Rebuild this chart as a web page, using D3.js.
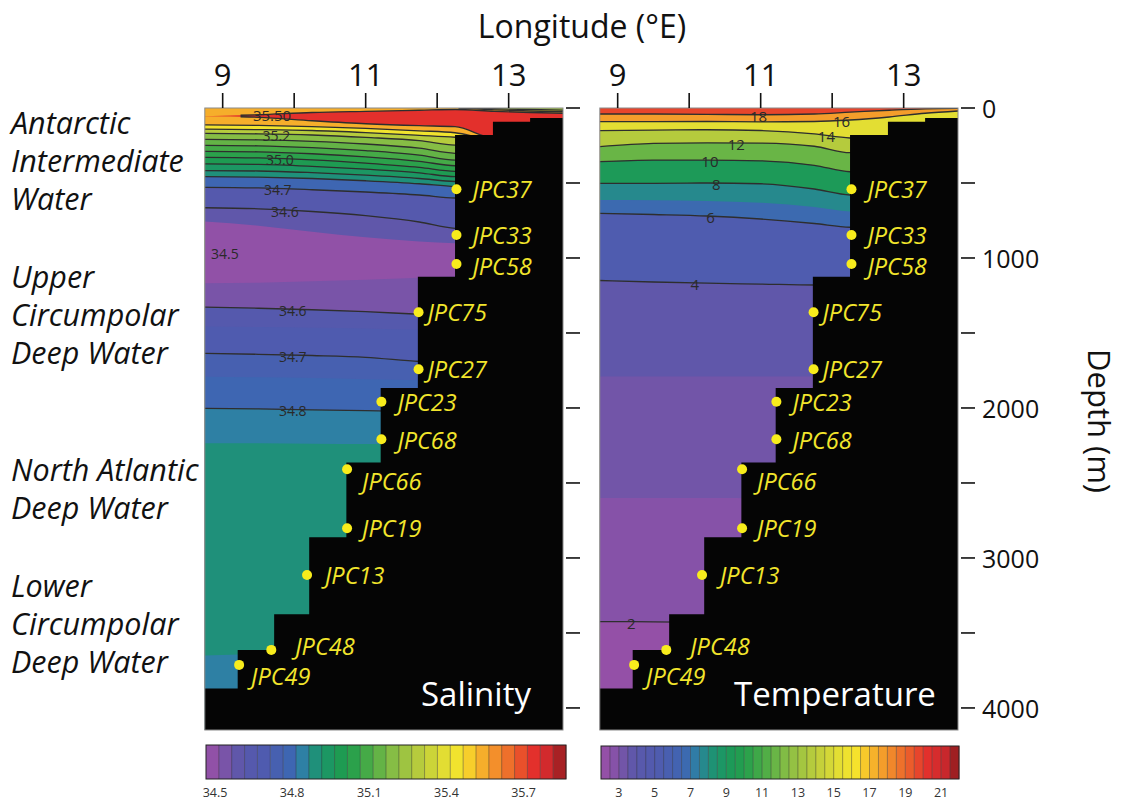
<!DOCTYPE html>
<html>
<head>
<meta charset="utf-8">
<script src="https://cdn.jsdelivr.net/npm/d3@7"></script>
<style>
  body { margin: 0; background: #ffffff; }
  svg { display: block; }
  text { font-family: "Open Sans", "Noto Sans", sans-serif; }
</style>
</head>
<body>
<svg id="chart" width="1123" height="803"></svg>
<script>
// ---------------------------------------------------------------------------
// Section data: longitude stations at which each water-property band's lower
// boundary depth (m) is given. Bands are listed from the sea surface downward.
// ---------------------------------------------------------------------------
const stations = [8.75, 9.5, 10.25, 11.0, 11.75, 12.25, 12.8, 13.3, 13.76];

// Salinity bands (value of each band, and depth of its lower boundary)
const salBandValues = [35.25, 35.45, 35.55, 35.75, 35.55, 35.45, 35.3, 35.2, 35.15, 35.1,
                       35.05, 35.0, 34.95, 34.9, 34.8, 34.65, 34.6, 34.5, 34.55, 34.65,
                       34.7, 34.75, 34.8, 34.85, 34.9, 34.85];
const salBandBottoms = [
  [0, 0, 0, 0, 0, 0, 5, 10, 15],
  [0, 0, 0, 0, 0, 0, 12, 20, 25],
  [55, 45, 30, 22, 15, 10, 22, 30, 35],
  [55, 62, 85, 105, 118, 124, 200, 200, 200],
  [113, 116, 124, 136, 152, 165, 210, 210, 210],
  [141, 144, 150, 164, 182, 195, 220, 220, 220],
  [169, 172, 180, 196, 218, 247, 250, 250, 250],
  [209, 212, 222, 240, 268, 302, 305, 305, 305],
  [249, 252, 264, 284, 314, 347, 350, 350, 350],
  [289, 292, 305, 326, 356, 385, 390, 390, 390],
  [329, 333, 346, 368, 396, 422, 425, 425, 425],
  [373, 376, 389, 408, 432, 458, 460, 460, 460],
  [418, 420, 431, 448, 470, 490, 495, 495, 495],
  [458, 461, 470, 485, 505, 524, 530, 530, 530],
  [529, 533, 545, 560, 580, 600, 605, 605, 605],
  [665, 672, 690, 718, 760, 802, 805, 805, 805],
  [757, 785, 825, 862, 890, 902, 905, 905, 905],
  [1169, 1165, 1155, 1145, 1132, 1124, 1124, 1124, 1124],
  [1328, 1335, 1345, 1358, 1375, 1385, 1385, 1385, 1385],
  [1457, 1460, 1465, 1470, 1478, 1480, 1480, 1480, 1480],
  [1636, 1642, 1650, 1662, 1690, 1700, 1700, 1700, 1700],
  [1791, 1795, 1800, 1808, 1815, 1820, 1820, 1820, 1820],
  [2002, 2006, 2012, 2018, 2024, 2030, 2030, 2030, 2030],
  [2235, 2236, 2238, 2240, 2242, 2245, 2245, 2245, 2245],
  [3650, 3640, 3630, 3620, 3610, 3600, 3600, 3600, 3600],
  [4200, 4200, 4200, 4200, 4200, 4200, 4200, 4200, 4200]
];
// isohalines drawn as contour lines (band index of the boundary, start longitude)
const salLineBands = [0, 1, 2, 3, 4, 5, 6, 7, 8, 9, 10, 11, 12, 13, 14, 15, 18, 20, 22];
const salLineStart = [12.3, 12.3, 9.25, 9.25, 8.75, 8.75, 8.75, 8.75, 8.75, 8.75,
                      8.75, 8.75, 8.75, 8.75, 8.75, 8.75, 8.75, 8.75, 8.75];
// contour labels: text, boundary band, longitude
const salLabelText = ["35.50", "35.2", "35.0", "34.7", "34.6", "34.6", "34.7", "34.8"];
const salLabelBand = [2, 6, 10, 14, 15, 18, 20, 22];
const salLabelLon  = [9.69, 9.75, 9.8, 9.77, 9.87, 9.98, 9.98, 9.98];
// free-standing label in the salinity minimum core
const salCoreText = ["34.5"];
const salCoreLon = [9.03];
const salCoreDepth = [969];

// Temperature bands (°C)
const tmpBandValues = [19.5, 17.75, 15.25, 13.75, 11.75, 9.25, 7.75, 6.5, 5.0, 3.75, 3.25, 2.75, 1.9];
const tmpBandBottoms = [
  [40, 40, 42, 45, 40, 28, 15, 6, 3],
  [91, 91, 90, 92, 90, 80, 60, 35, 20],
  [151, 148, 145, 150, 172, 200, 205, 205, 205],
  [258, 236, 232, 234, 255, 298, 300, 300, 300],
  [358, 347, 347, 352, 382, 425, 430, 430, 430],
  [502, 502, 500, 505, 540, 580, 585, 585, 585],
  [613, 615, 620, 632, 660, 690, 695, 695, 695],
  [702, 710, 720, 740, 770, 795, 800, 800, 800],
  [1150, 1160, 1168, 1174, 1180, 1180, 1180, 1180, 1180],
  [1790, 1790, 1790, 1790, 1790, 1790, 1790, 1790, 1790],
  [2600, 2600, 2600, 2602, 2605, 2605, 2605, 2605, 2605],
  [3424, 3426, 3430, 3435, 3440, 3440, 3440, 3440, 3440],
  [4200, 4200, 4200, 4200, 4200, 4200, 4200, 4200, 4200]
];
const tmpLineBands = [0, 1, 2, 3, 4, 5, 7, 8, 11];
const tmpLineStart = [8.75, 8.75, 8.75, 8.75, 8.75, 8.75, 8.75, 8.75, 8.75];
const tmpLabelText = ["18", "16", "14", "12", "10", "8", "6", "4", "2"];
const tmpLabelBand = [0, 1, 2, 3, 4, 5, 7, 8, 11];
const tmpLabelLon  = [10.97, 12.13, 11.92, 10.66, 10.29, 10.38, 10.3, 10.08, 9.19];

// Seafloor: step edges (°E) and depth (m) east of each edge
const bathyLon   = [8.75, 9.21, 9.72, 10.21, 10.73, 11.21, 11.73, 12.25, 12.78, 13.30, 13.76];
const bathyDepth = [3870, 3613, 3375, 2862, 2364, 1867, 1125, 180, 91, 67, 67];

// Sediment cores
const coreNames = ["JPC37", "JPC33", "JPC58", "JPC75", "JPC27", "JPC23", "JPC68",
                   "JPC66", "JPC19", "JPC13", "JPC48", "JPC49"];
const coreLon   = [12.27, 12.27, 12.27, 11.74, 11.74, 11.22, 11.22, 10.74, 10.74, 10.18, 9.68, 9.23];
const coreDepth = [542, 847, 1040, 1362, 1742, 1958, 2209, 2409, 2802, 3113, 3613, 3713];
// label placement relative to each core marker (px)
const coreLabelShift = [[16, 0], [16, 0], [16, 2], [9, 0], [9, 0], [16, 0], [16, 1],
                        [15, 12], [15, 0], [18, 0], [24, -4], [12, 11]];

// Water masses named along the left margin
const waterMassLines = [
  ["Antarctic", "Intermediate", "Water"],
  ["Upper", "Circumpolar", "Deep Water"],
  ["North Atlantic", "Deep Water"],
  ["Lower", "Circumpolar", "Deep Water"]
];
const waterMassDepth = [93, 1120, 2407, 3180]; // depth level of each first line

// Axes
const lonTicks = [9, 10, 11, 12, 13];
const lonTickLabels = [9, 11, 13];
const depthTicks = [0, 500, 1000, 1500, 2000, 2500, 3000, 3500, 4000];
const depthTickLabels = [0, 1000, 2000, 3000, 4000];

// Colour bars
const salBarTicks = [34.5, 34.8, 35.1, 35.4, 35.7];
const tmpBarTicks = [3, 5, 7, 9, 11, 13, 15, 17, 19, 21];

// ---------------------------------------------------------------------------
const svg = d3.select("#chart");

// shared rainbow ramp used by both colour bars
const ramp = d3.scaleLinear()
  .domain([0, 0.035, 0.06, 0.085, 0.12, 0.17, 0.232, 0.268, 0.304, 0.34, 0.375, 0.41, 0.46,
           0.52, 0.60, 0.67, 0.71, 0.75, 0.80, 0.86, 0.91, 0.96, 1.0])
  .range(["#9a4fa6", "#8852a8", "#7455a8", "#6157aa", "#5659ad", "#4e5caf", "#3e66b2", "#2e80a4",
          "#1f9079", "#1c9763", "#1e9b52", "#2aa14b", "#4fad46", "#88be45", "#bdcd3c", "#e8e032",
          "#f6e42c", "#f7bd2b", "#f3922b", "#eb5e2b", "#e3302c", "#cc282d", "#8b1b1d"])
  .interpolate(d3.interpolateRgb)
  .clamp(true);

const salCells = 28, tmpCells = 40;
const salCellIndex = v => Math.max(0, Math.min(salCells - 1, Math.round((v - 34.5) / 0.05)));
const tmpCellIndex = v => Math.max(0, Math.min(tmpCells - 1, Math.floor((v - 2) / 0.5 + 1e-9)));
const salColor = v => ramp((salCellIndex(v) + 0.5) / salCells);
const tmpColor = v => ramp((tmpCellIndex(v) + 0.5) / tmpCells);

const y = d3.scaleLinear().domain([0, 4147]).range([108, 730]);
const xL = d3.scaleLinear().domain([8.75, 13.76]).range([204.8, 563]);
const xR = d3.scaleLinear().domain([8.75, 13.76]).range([599.8, 958]);

const panels = [
  { id: "sal", x: xL, title: "Salinity", titleX: 476, values: salBandValues, bottoms: salBandBottoms, color: salColor,
    lineBands: salLineBands, lineStart: salLineStart,
    labelText: salLabelText, labelBand: salLabelBand, labelLon: salLabelLon, labelSize: 14 },
  { id: "tmp", x: xR, title: "Temperature", titleX: 835, values: tmpBandValues, bottoms: tmpBandBottoms, color: tmpColor,
    lineBands: tmpLineBands, lineStart: tmpLineStart,
    labelText: tmpLabelText, labelBand: tmpLabelBand, labelLon: tmpLabelLon, labelSize: 15 }
];

const defs = svg.append("defs");

panels.forEach(p => {
  const x = p.x;
  const [px0, px1] = x.range();
  const [py0, py1] = y.range();

  defs.append("clipPath").attr("id", "clip-" + p.id)
    .append("rect").attr("x", px0).attr("y", py0).attr("width", px1 - px0).attr("height", py1 - py0);

  const g = svg.append("g").attr("clip-path", "url(#clip-" + p.id + ")");

  // filled bands: each band painted from its upper boundary to the floor of the plot,
  // later (deeper) bands cover the rest, which leaves no seams between bands
  const fillArea = d3.area()
    .x(d => x(d.lon))
    .y0(d => y(d.top))
    .y1(() => y(4147) + 2)
    .curve(d3.curveMonotoneX);

  p.values.forEach((v, i) => {
    const tops = i === 0 ? stations.map(() => 0) : p.bottoms[i - 1];
    const pts = stations.map((lon, k) => ({ lon, top: tops[k] }));
    g.append("path").attr("d", fillArea(pts)).attr("fill", p.color(v));
  });

  // contour lines
  const contour = d3.line().x(d => x(d.lon)).y(d => y(d.depth)).curve(d3.curveMonotoneX);
  p.lineBands.forEach((b, j) => {
    const start = p.lineStart[j];
    const lg = g.append("g");
    if (start > 8.75) {
      const cid = "clipline-" + p.id + "-" + j;
      defs.append("clipPath").attr("id", cid)
        .append("rect").attr("x", x(start)).attr("y", py0 - 5).attr("width", px1 - x(start)).attr("height", py1 - py0 + 10);
      lg.attr("clip-path", "url(#" + cid + ")");
    }
    lg.append("path")
      .attr("d", contour(stations.map((lon, k) => ({ lon, depth: p.bottoms[b][k] }))))
      .attr("fill", "none").attr("stroke", "#2e2e2e").attr("stroke-width", 1.3);
  });

  // contour labels, placed on their isoline
  p.labelText.forEach((t, j) => {
    const b = p.labelBand[j];
    const along = d3.scaleLinear().domain(stations).range(p.bottoms[b]);
    const lon = p.labelLon[j];
    g.append("text")
      .attr("x", x(lon)).attr("y", y(along(lon)) + 1)
      .attr("text-anchor", "middle").attr("dominant-baseline", "central")
      .attr("font-size", t === "35.50" ? 15 : p.labelSize).attr("fill", "#2a2a2a")
      .text(t);
  });

  if (p.id === "sal") {
    salCoreText.forEach((t, j) => {
      g.append("text")
        .attr("x", x(salCoreLon[j])).attr("y", y(salCoreDepth[j]))
        .attr("text-anchor", "middle").attr("dominant-baseline", "central")
        .attr("font-size", 14).attr("fill", "#2a2a2a").text(t);
    });
  }

  // seafloor
  const floorArea = d3.area()
    .x(d => x(d.lon))
    .y0(() => y(4147) + 2)
    .y1(d => y(d.depth))
    .curve(d3.curveStepAfter);
  g.append("path")
    .attr("d", floorArea(bathyLon.map((lon, k) => ({ lon, depth: bathyDepth[k] }))))
    .attr("fill", "#050505");

  // panel frame
  svg.append("rect").attr("x", px0).attr("y", py0).attr("width", px1 - px0).attr("height", py1 - py0)
    .attr("fill", "none").attr("stroke", "#8a8a8a").attr("stroke-width", 1);

  // cores
  coreNames.forEach((name, k) => {
    const cx = x(coreLon[k]), cy = y(coreDepth[k]);
    svg.append("circle").attr("cx", cx).attr("cy", cy).attr("r", 5).attr("fill", "#f8ec1c");
    svg.append("text")
      .attr("x", cx + coreLabelShift[k][0]).attr("y", cy + coreLabelShift[k][1])
      .attr("dominant-baseline", "central")
      .attr("font-size", 23.5).attr("font-style", "italic").attr("fill", "#f2e52c")
      .text(name);
  });

  // panel title
  svg.append("text")
    .attr("x", p.titleX).attr("y", 693)
    .attr("text-anchor", "middle").attr("dominant-baseline", "central")
    .attr("font-size", 33).attr("fill", "#ffffff").text(p.title);

  // longitude axis (top)
  lonTicks.forEach(t => {
    svg.append("line").attr("x1", x(t)).attr("x2", x(t)).attr("y1", 93).attr("y2", py0)
      .attr("stroke", "#111").attr("stroke-width", 1.6);
  });
  lonTickLabels.forEach(t => {
    svg.append("text").attr("x", x(t)).attr("y", 74)
      .attr("text-anchor", "middle").attr("dominant-baseline", "central")
      .attr("font-size", 31).attr("fill", "#111").text(t);
  });

  // depth ticks on the right side of each panel
  depthTicks.forEach(t => {
    svg.append("line").attr("x1", px1 + 3).attr("x2", px1 + 17).attr("y1", y(t)).attr("y2", y(t))
      .attr("stroke", "#111").attr("stroke-width", 1.6);
  });
});

// depth labels on the far right
depthTickLabels.forEach(t => {
  svg.append("text").attr("x", 982).attr("y", y(t))
    .attr("dominant-baseline", "central")
    .attr("font-size", 25).attr("fill", "#111").text(t);
});

svg.append("text")
  .attr("transform", "translate(1100," + 421 + ") rotate(90)")
  .attr("text-anchor", "middle").attr("dominant-baseline", "central")
  .attr("font-size", 31).attr("fill", "#111").text("Depth (m)");

svg.append("text").attr("x", 582).attr("y", 25)
  .attr("text-anchor", "middle").attr("dominant-baseline", "central")
  .attr("font-size", 32).attr("fill", "#111").text("Longitude (°E)");

// water-mass names
waterMassLines.forEach((lines, i) => {
  lines.forEach((t, j) => {
    svg.append("text").attr("x", 11).attr("y", y(waterMassDepth[i]) + j * 38)
      .attr("dominant-baseline", "central")
      .attr("font-size", 30.5).attr("font-style", "italic").attr("fill", "#111").text(t);
  });
});

// colour bars
function colorBar(x0, x1, yTop, h, domain, cells, cellValue, color, ticks, fmt) {
  const s = d3.scaleLinear().domain(domain).range([x0, x1]);
  const w = (x1 - x0) / cells;
  const g = svg.append("g");
  d3.range(cells).forEach(i => {
    g.append("rect").attr("x", x0 + i * w).attr("y", yTop).attr("width", w + 0.3).attr("height", h)
      .attr("fill", color(cellValue(i)));
  });
  d3.range(1, cells).forEach(i => {
    g.append("line").attr("x1", x0 + i * w).attr("x2", x0 + i * w).attr("y1", yTop).attr("y2", yTop + h)
      .attr("stroke", "#333").attr("stroke-opacity", 0.55).attr("stroke-width", 0.8);
  });
  g.append("rect").attr("x", x0).attr("y", yTop).attr("width", x1 - x0).attr("height", h)
    .attr("fill", "none").attr("stroke", "#222").attr("stroke-width", 1);
  ticks.forEach(t => {
    g.append("text").attr("x", s(t)).attr("y", yTop + h + 13)
      .attr("text-anchor", "middle").attr("dominant-baseline", "central")
      .attr("font-size", 12.5).attr("fill", "#333").text(fmt(t));
  });
}
colorBar(206, 566, 745, 34, [34.465, 35.865], salCells, i => 34.5 + 0.05 * i, salColor, salBarTicks, d3.format(".1f"));
colorBar(601, 959, 746, 33, [2, 22], tmpCells, i => 2.25 + 0.5 * i, tmpColor, tmpBarTicks, d3.format("d"));
</script>
</body>
</html>
